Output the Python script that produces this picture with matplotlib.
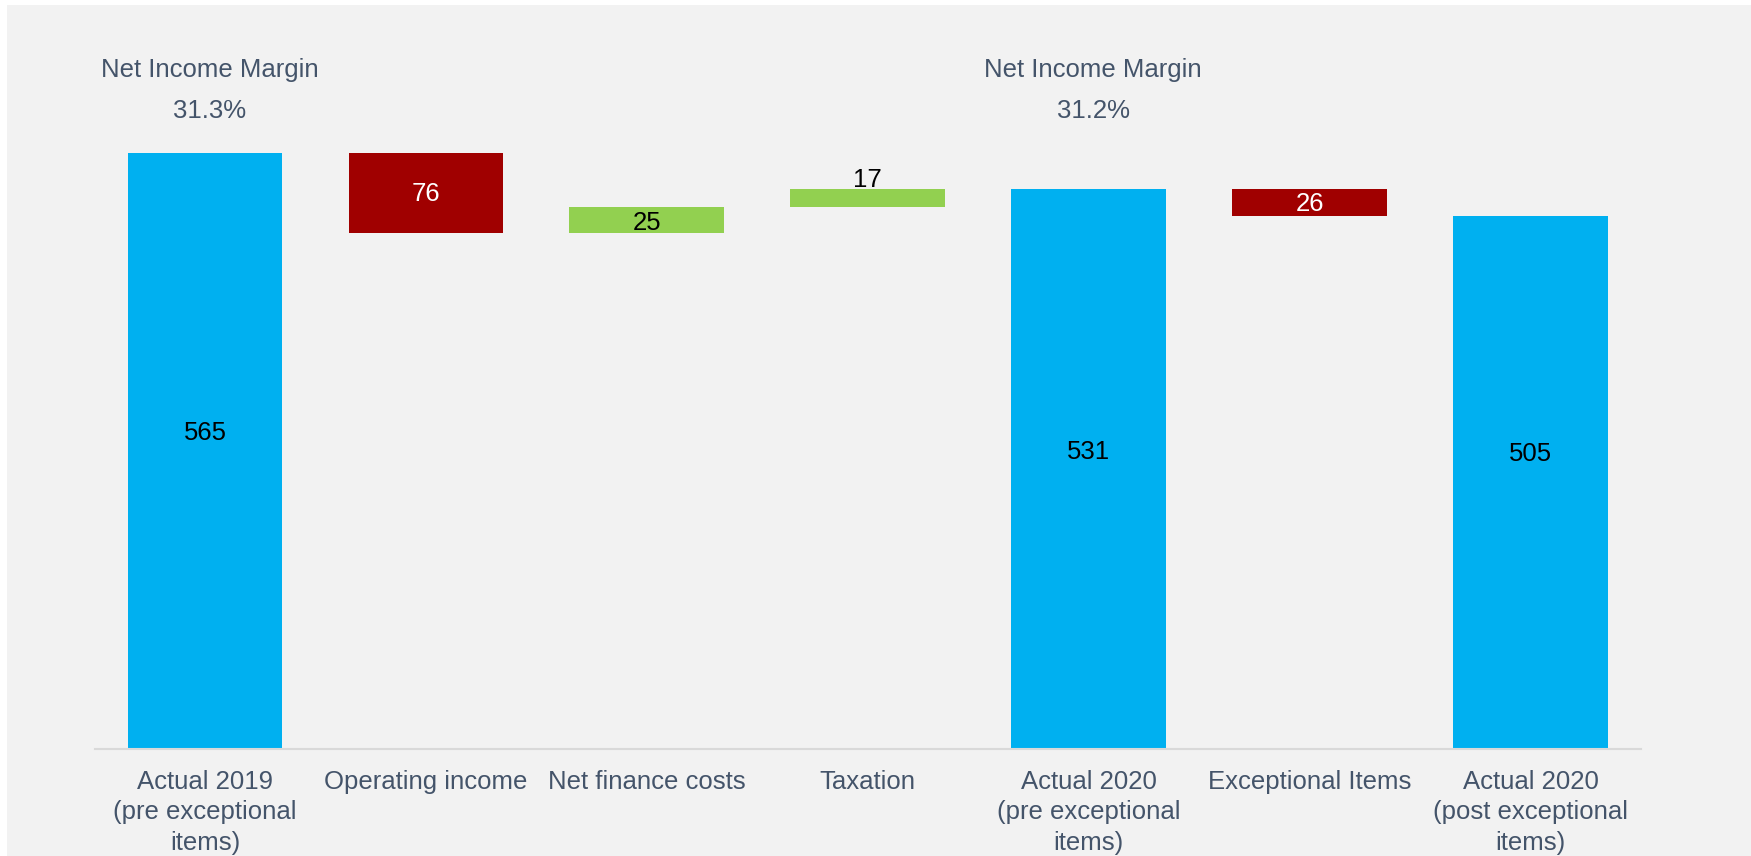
import matplotlib
matplotlib.use("Agg")
import matplotlib.pyplot as plt
from matplotlib.patches import Rectangle

plt.rcParams['font.family'] = ['Liberation Sans', 'DejaVu Sans']

# data
categories = ["Actual 2019\n(pre exceptional\nitems)", "Operating income", "Net finance costs",
              "Taxation", "Actual 2020\n(pre exceptional\nitems)", "Exceptional Items",
              "Actual 2020\n(post exceptional\nitems)"]
changes = [565, -76, 25, 17, None, -26, None]   # None = running total bar
margin_idx = [0, 4]
margin_vals = ["31.3%", "31.2%"]

BLUE = "#00b0f0"
RED = "#a00000"
GREEN = "#92d050"
TXT = "#44546a"

# build waterfall
bottoms, heights, colors, shown = [], [], [], []
running = 0
for i, c in enumerate(changes):
    if i == 0 or c is None:
        if c is not None:
            running = c
        bottoms.append(0); heights.append(running); colors.append(BLUE); shown.append(running)
    elif c < 0:
        running += c
        bottoms.append(running); heights.append(-c); colors.append(RED); shown.append(-c)
    else:
        bottoms.append(running); heights.append(c); colors.append(GREEN); shown.append(c)
        running += c

W, H = 1751, 856
fig = plt.figure(figsize=(W / 100, H / 100), dpi=100, facecolor="white")
fig.patches.append(Rectangle((7 / W, 0), 1, (H - 5) / H, transform=fig.transFigure,
                             facecolor="#f2f2f2", edgecolor="none", zorder=-10))

ax = fig.add_axes([94.5 / W, 107 / H, 1546.4 / W, 729 / H])
ax.set_facecolor("none")
x = range(len(categories))
ax.bar(x, heights, bottom=bottoms, color=colors, width=0.7)

for i in x:
    if colors[i] == BLUE:
        y = max(heights[i] * 0.53, 280)
        col = "black"
    elif colors[i] == RED:
        y = bottoms[i] + heights[i] / 2 - 1
        col = "white"
    elif heights[i] < 20:
        y = bottoms[i] + heights[i] + 8
        col = "black"
    else:
        y = bottoms[i] + heights[i] / 2 - 3
        col = "black"
    ax.text(i, y, str(shown[i]), ha="center", va="center", fontsize=18.5, color=col)

for i, m in zip(margin_idx, margin_vals):
    ax.text(i + 0.02, 0.932, "Net Income Margin", transform=ax.get_xaxis_transform(),
            ha="center", va="center", fontsize=18.5, color=TXT)
    ax.text(i + 0.02, 0.875, m, transform=ax.get_xaxis_transform(),
            ha="center", va="center", fontsize=18.5, color=TXT)

ax.set_xlim(-0.5, len(categories) - 0.5)
ax.set_ylim(0, 691)
ax.set_xticks(list(x))
ax.set_xticklabels(categories, fontsize=18.5, color=TXT, linespacing=1.35)
ax.tick_params(axis="x", length=0, pad=15)
ax.set_yticks([])
for s in ["top", "right", "left"]:
    ax.spines[s].set_visible(False)
ax.spines["bottom"].set_color("#d9d9d9")
ax.spines["bottom"].set_linewidth(1.5)

fig.savefig("out.png", dpi=100)
